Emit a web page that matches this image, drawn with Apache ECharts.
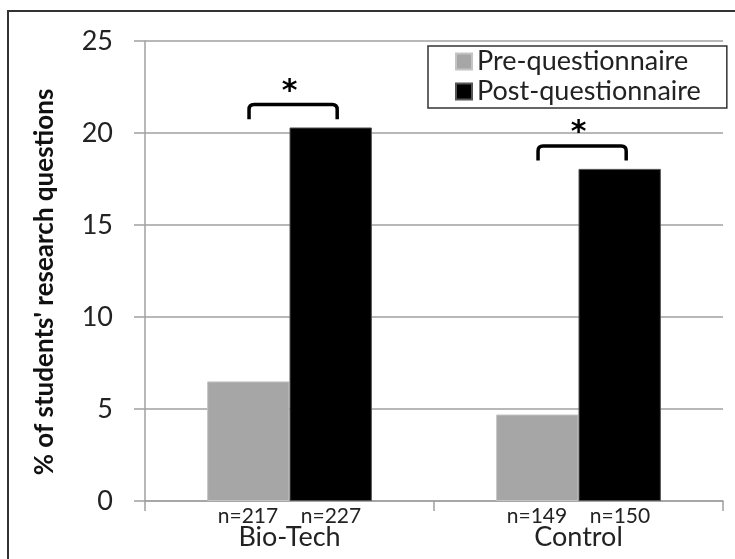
<!DOCTYPE html>
<html><head><meta charset="utf-8">
<script src="https://cdn.jsdelivr.net/npm/echarts@6/dist/echarts.min.js"></script>
<style>html,body{margin:0;padding:0;background:#fff}#c{width:735px;height:559px}</style>
</head><body><div id="c"></div>
<script>
const categories = ['Bio-Tech', 'Control'];
const preValues = [6.5, 4.7];
const postValues = [20.3, 18.05];
const nPre = [217, 149];
const nPost = [227, 150];
const significance = ['*', '*'];
const seriesNames = ['Pre-questionnaire', 'Post-questionnaire'];
const yAxisName = "% of students' research questions";

const FONT = 'Lato, "Open Sans", sans-serif';
const TXT = '#222';
const AXIS = '#a0a0a0';

const chart = echarts.init(document.getElementById('c'));
chart.setOption({
  animation: false,
  backgroundColor: '#fff',
  graphic: [{
    type: 'rect', shape: { x: 8, y: 11, width: 800, height: 600 },
    style: { fill: null, stroke: '#333', lineWidth: 2 }, silent: true
  }],
  grid: { left: 145, right: 12, top: 41, bottom: 58 },
  legend: {
    data: seriesNames, orient: 'vertical', left: 428, top: 46,
    padding: [2, 26, 3, 27], itemGap: 3, itemWidth: 16, itemHeight: 16,
    icon: 'rect', borderColor: '#333', borderWidth: 1.5, selectedMode: false,
    textStyle: { fontFamily: FONT, fontSize: 27, color: TXT, width: 220 }
  },
  xAxis: {
    type: 'category', data: categories,
    axisLine: { lineStyle: { color: AXIS, width: 1.5 } },
    axisTick: { show: true, length: 10, lineStyle: { color: AXIS, width: 1.5 } },
    axisLabel: {
      margin: 5, interval: 0, color: TXT,
      formatter: function (v, i) { return '{n|n=' + nPre[i] + '}{g|}{n|n=' + nPost[i] + '}\n{c|' + v + '}'; },
      rich: {
        n: { fontFamily: FONT, fontSize: 21, width: 60, align: 'center', lineHeight: 20, color: TXT },
        g: { width: 23 },
        c: { fontFamily: FONT, fontSize: 27, lineHeight: 23, color: TXT }
      }
    }
  },
  yAxis: {
    type: 'value', min: 0, max: 25, interval: 5,
    name: yAxisName, nameLocation: 'middle', nameGap: 87,
    nameTextStyle: { fontFamily: FONT, fontSize: 26, fontWeight: 'bold', color: '#111', padding: [0, 22, 0, 0] },
    axisLine: { show: true, lineStyle: { color: AXIS, width: 1.5 } },
    axisTick: { show: true, length: 11, lineStyle: { color: AXIS, width: 1.5 } },
    splitLine: { lineStyle: { color: AXIS, width: 1.5 } },
    axisLabel: { margin: 32, fontFamily: FONT, fontSize: 27, color: TXT }
  },
  series: [
    {
      name: seriesNames[0], type: 'bar', data: preValues, barWidth: '28.5%', barGap: '0%',
      itemStyle: { color: '#a6a6a6', borderColor: '#c4c4c4', borderWidth: 1 }
    },
    {
      name: seriesNames[1], type: 'bar', data: postValues, barWidth: '28.5%', barGap: '0%',
      itemStyle: { color: '#000', borderColor: '#555', borderWidth: 1 }
    },
    {
      type: 'custom', z: 10, silent: true,
      data: postValues.map(function (v, i) { return [i, v]; }),
      renderItem: function (params, api) {
        const idx = api.value(0), post = api.value(1);
        const c = api.coord([idx, post]);
        const bw = api.size([1, 0])[0];
        const l = c[0] - bw * 0.14, r = c[0] + bw * 0.165;
        const yb = api.coord([idx, post + 0.45])[1];
        const yt = api.coord([idx, post + 1.25])[1];
        const ys = api.coord([idx, post + 2.35])[1];
        const rad = 5;
        return {
          type: 'group', children: [
            {
              type: 'path',
              shape: { pathData: 'M' + l + ',' + yb + 'L' + l + ',' + (yt + rad) + 'Q' + l + ',' + yt + ' ' + (l + rad) + ',' + yt +
                'L' + (r - rad) + ',' + yt + 'Q' + r + ',' + yt + ' ' + r + ',' + (yt + rad) + 'L' + r + ',' + yb },
              style: { fill: null, stroke: '#000', lineWidth: 3.5 }
            },
            {
              type: 'text',
              style: { text: significance[params.dataIndex], x: c[0], y: ys + 8, align: 'center', verticalAlign: 'middle',
                font: 'bold 30px "DejaVu Sans", sans-serif', fill: '#000' }
            }
          ]
        };
      }
    }
  ]
});
</script></body></html>
